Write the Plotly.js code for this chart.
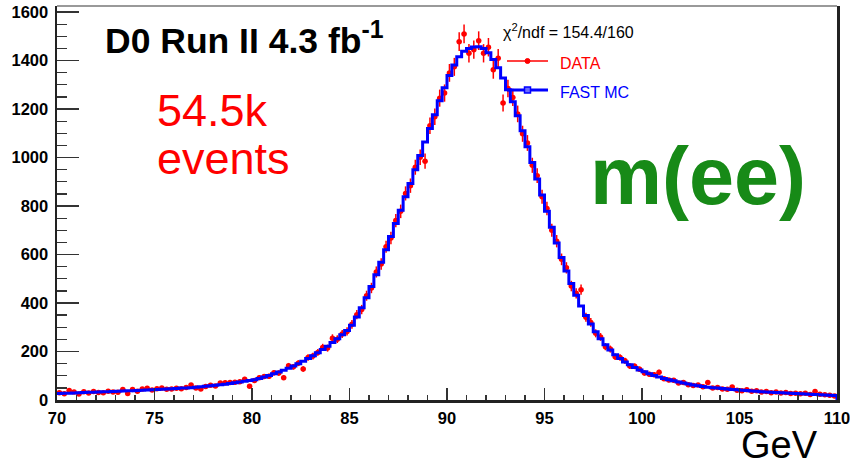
<!DOCTYPE html>
<html>
<head>
<meta charset="utf-8">
<script src="https://cdn.plot.ly/plotly-3.0.1.min.js"></script>
<style>
  html, body { margin: 0; padding: 0; background: #ffffff; }
  #chart { width: 850px; height: 465px; }
</style>
</head>
<body>
<div id="chart"></div>
<script>
// Di-electron invariant mass, 160 bins of 0.25 GeV between 70 and 110 GeV
const massMin = 70;
const massMax = 110;
const binWidth = 0.25;

// Fast MC template (events per bin)
const fastMC = [
  27, 28, 28, 29, 30, 31, 32, 32, 33, 34,
  34, 35, 36, 37, 38, 38, 39, 40, 41, 42,
  43, 44, 45, 46, 47, 49, 50, 51, 53, 55,
  57, 59, 61, 63, 65, 68, 71, 74, 77, 80,
  84, 89, 95, 101, 108, 115, 123, 131, 140, 149,
  160, 171, 183, 195, 208, 222, 237, 253, 269, 287,
  308, 342, 380, 422, 468, 517, 568, 620, 674, 728,
  783, 838, 893, 950, 1008, 1064, 1120, 1176, 1234, 1288,
  1338, 1382, 1416, 1438, 1450, 1456, 1457, 1450, 1432, 1404,
  1370, 1328, 1280, 1230, 1172, 1110, 1045, 980, 912, 845,
  778, 712, 648, 588, 532, 480, 432, 388, 349, 313,
  281, 253, 228, 206, 187, 171, 157, 145, 134, 124,
  116, 108, 101, 95, 89, 84, 79, 74, 70, 66,
  62, 59, 56, 53, 51, 49, 47, 45, 43, 42,
  40, 39, 37, 36, 34, 33, 32, 31, 30, 29,
  28, 27, 26, 25, 24, 23, 22, 21, 20, 19
];

// Observed Z -> ee candidates per bin
const dataCounts = [
  30, 26, 39, 33, 25, 34, 29, 35, 31, 30,
  36, 33, 32, 43, 27, 43, 36, 45, 48, 41,
  46, 49, 44, 45, 48, 46, 52, 62, 50, 45,
  56, 61, 58, 70, 71, 72, 73, 75, 86, 57,
  80, 92, 97, 98, 112, 111, 92, 141, 137, 152,
  128, 175, 181, 196, 217, 214, 255, 251, 272, 283,
  312, 352, 373, 430, 462, 528, 561, 632, 668, 740,
  778, 852, 884, 960, 1001, 985, 1131, 1168, 1245, 1266,
  1349, 1374, 1478, 1510, 1430, 1445, 1482, 1430, 1455, 1362,
  1410, 1225, 1285, 1248, 1180, 1098, 1060, 968, 925, 838,
  790, 700, 655, 580, 545, 470, 440, 455, 341, 320,
  275, 260, 220, 210, 178, 175, 162, 140, 139, 127,
  111, 106, 104, 114, 88, 82, 81, 70, 72, 63,
  60, 62, 55, 72, 49, 52, 45, 44, 54, 40,
  38, 42, 36, 38, 33, 35, 30, 33, 29, 31,
  27, 28, 26, 28, 23, 35, 24, 22, 20, 17
];

const xTickValues = [70, 75, 80, 85, 90, 95, 100, 105, 110];
const yTickValues = [0, 200, 400, 600, 800, 1000, 1200, 1400, 1600];

const labelTitle = 'D0 Run II 4.3 fb<sup>-1</sup>';
const labelEvents = ['54.5k', 'events'];
const labelObservable = 'm(ee)';
const labelChi2 = '\u03C7<sup>2</sup>/ndf = 154.4/160';
const legendNames = ['DATA', 'FAST MC'];
const labelUnit = 'GeV';

// bin centres and edges
const centers = dataCounts.map((_, i) => massMin + (i + 0.5) * binWidth);
const edges = fastMC.map((_, i) => massMin + i * binWidth);

// step outline of the MC histogram, closed down to zero at the upper edge
const stepX = edges.concat([massMax, massMax]);
const stepY = fastMC.concat([fastMC[fastMC.length - 1], 0]);

const FONT = '"Liberation Sans", Arial, Helvetica, sans-serif';
const RED = '#ff0000';
const BLUE = '#0000ff';

const traces = [
  {
    type: 'scatter',
    mode: 'markers',
    x: centers,
    y: dataCounts,
    marker: { color: RED, size: 5.5, symbol: 'circle' },
    error_y: { type: 'sqrt', visible: true, color: RED, thickness: 1.5, width: 0 },
    error_x: { type: 'constant', value: binWidth / 2, visible: true, color: RED, thickness: 1, width: 0 },
    showlegend: false,
    hoverinfo: 'x+y'
  },
  {
    type: 'scatter',
    mode: 'lines',
    x: stepX,
    y: stepY,
    line: { color: BLUE, width: 3, shape: 'hv' },
    showlegend: false,
    hoverinfo: 'x+y'
  }
];

// plot area in pixels: x 57..837, y 6..400
const L = 57, T = 6, W = 780, H = 394;
const px = (p) => (p - L) / W;
const py = (p) => (T + H - p) / H;

const layout = {
  width: 850,
  height: 465,
  margin: { l: L, r: 850 - L - W, t: T, b: 465 - T - H, pad: 0 },
  paper_bgcolor: '#ffffff',
  plot_bgcolor: '#ffffff',
  showlegend: false,
  font: { family: FONT, color: '#000000' },
  xaxis: {
    range: [massMin - 0.0005, massMax + 0.0005],
    tickmode: 'array',
    tickvals: xTickValues,
    ticktext: xTickValues.map(String),
    ticks: 'inside',
    ticklen: 12,
    tickwidth: 1.5,
    tickcolor: '#333333',
    minor: { dtick: 1, tick0: 70, ticks: 'inside', ticklen: 5, tickwidth: 1.3, tickcolor: '#333333' },
    tickfont: { family: FONT, size: 16.5, weight: 'bold', color: '#000000' },
    ticklabelstandoff: 2,
    ticklabeloverflow: 'allow',
    showgrid: false,
    zeroline: false,
    showline: true,
    linecolor: '#222222',
    linewidth: 2.5,
    mirror: false,
    fixedrange: true
  },
  yaxis: {
    range: [0, 1625],
    tickmode: 'array',
    tickvals: yTickValues,
    ticktext: yTickValues.map(String),
    ticks: 'inside',
    ticklen: 22,
    tickwidth: 1.5,
    tickcolor: '#333333',
    minor: { dtick: 50, tick0: 0, ticks: 'inside', ticklen: 10, tickwidth: 1.3, tickcolor: '#333333' },
    tickfont: { family: FONT, size: 16.5, weight: 'bold', color: '#000000' },
    ticklabelstandoff: 3,
    ticklabeloverflow: 'allow',
    showgrid: false,
    zeroline: false,
    showline: true,
    linecolor: '#222222',
    linewidth: 2.5,
    mirror: true,
    fixedrange: true
  },
  shapes: [
    // upper frame edge
    { type: 'line', xref: 'paper', yref: 'paper', x0: 0, x1: 1, y0: 1, y1: 1,
      line: { color: '#777777', width: 1.5 } },
    // legend: DATA
    { type: 'line', xref: 'paper', yref: 'paper', x0: px(507), x1: px(548), y0: py(61), y1: py(61),
      line: { color: RED, width: 1.3 } },
    { type: 'circle', xref: 'paper', yref: 'paper', xsizemode: 'pixel', ysizemode: 'pixel',
      xanchor: px(527.5), yanchor: py(61), x0: -2.5, x1: 2.5, y0: -2.5, y1: 2.5,
      fillcolor: RED, line: { color: RED, width: 1 } },
    // legend: FAST MC
    { type: 'line', xref: 'paper', yref: 'paper', x0: px(507), x1: px(548), y0: py(90), y1: py(90),
      line: { color: BLUE, width: 3 } },
    { type: 'rect', xref: 'paper', yref: 'paper', xsizemode: 'pixel', ysizemode: 'pixel',
      xanchor: px(527.5), yanchor: py(90), x0: -3, x1: 3, y0: -3, y1: 3,
      fillcolor: '#6a6aff', line: { color: BLUE, width: 1.5 } }
  ],
  annotations: [
    { text: labelTitle, xref: 'paper', yref: 'paper', x: px(103), y: py(38),
      xanchor: 'left', yanchor: 'middle', showarrow: false,
      font: { family: FONT, size: 35.5, weight: 'bold', color: '#000000' } },
    { text: labelEvents[0], xref: 'paper', yref: 'paper', x: px(155), y: py(110),
      xanchor: 'left', yanchor: 'middle', showarrow: false,
      font: { family: FONT, size: 45, color: RED } },
    { text: labelEvents[1], xref: 'paper', yref: 'paper', x: px(155), y: py(158),
      xanchor: 'left', yanchor: 'middle', showarrow: false,
      font: { family: FONT, size: 45, color: RED } },
    { text: labelObservable, xref: 'paper', yref: 'paper', x: px(588), y: py(176),
      xanchor: 'left', yanchor: 'middle', showarrow: false,
      font: { family: FONT, size: 81, weight: 'bold', color: '#178a17' } },
    { text: labelChi2, xref: 'paper', yref: 'paper', x: px(501), y: py(31),
      xanchor: 'left', yanchor: 'middle', showarrow: false,
      font: { family: FONT, size: 16, color: '#000000' } },
    { text: legendNames[0], xref: 'paper', yref: 'paper', x: px(558), y: py(63),
      xanchor: 'left', yanchor: 'middle', showarrow: false,
      font: { family: FONT, size: 16, color: RED } },
    { text: legendNames[1], xref: 'paper', yref: 'paper', x: px(558), y: py(92.5),
      xanchor: 'left', yanchor: 'middle', showarrow: false,
      font: { family: FONT, size: 16, color: BLUE } },
    { text: labelUnit, xref: 'paper', yref: 'paper', x: px(820), y: py(445),
      xanchor: 'right', yanchor: 'middle', showarrow: false,
      font: { family: FONT, size: 38, color: '#000000' } }
  ]
};

Plotly.newPlot('chart', traces, layout, { staticPlot: true, displayModeBar: false });
</script>
</body>
</html>
